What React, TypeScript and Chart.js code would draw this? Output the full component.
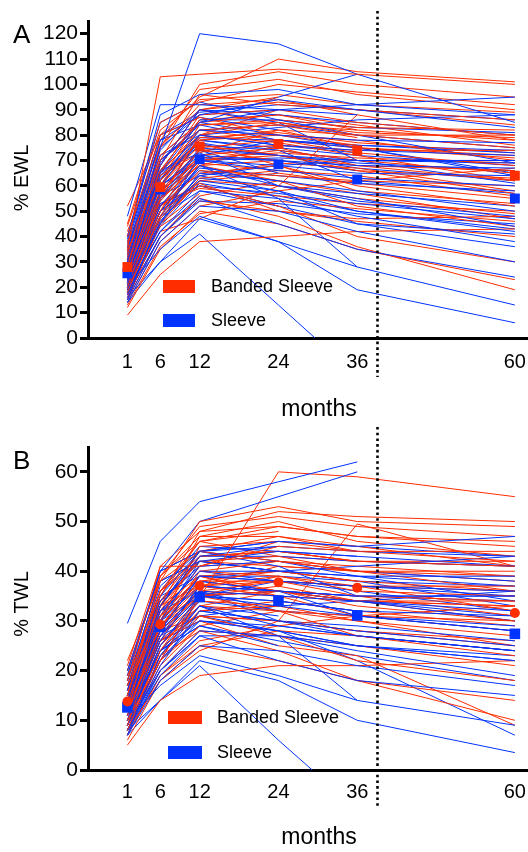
import React, { useEffect, useRef } from "react";
import { Chart, registerables } from "chart.js";
Chart.register(...registerables);

type Row = (number | null)[];

const months = [1, 6, 12, 24, 36, 60];
const xTickValues = [1, 6, 12, 24, 36, 60];
const ewlTickValues = [0, 10, 20, 30, 40, 50, 60, 70, 80, 90, 100, 110, 120];
const twlTickValues = [0, 10, 20, 30, 40, 50, 60];
const seriesNames = ["Banded Sleeve", "Sleeve"];

// Panel A: % EWL, one row per patient at months 1, 6, 12, 24, 36, 60
const ewlBanded: Row[] = [
  [35, 103, 104, 106, 104, 100],
  [40, 80, 95, 110, 105, 101],
  [30, 75, 100, 105, 100, 95],
  [45, 85, 93, 100, 97, 92],
  [28, 70, 96, 92, 90, 86],
  [25, 65, 88, 90, 85, 80],
  [33, 72, 85, 88, 82, 78],
  [20, 55, 80, 85, 80, 75],
  [30, 62, 78, 82, 75, 72],
  [22, 50, 75, 78, 73, 68],
  [27, 58, 70, 74, 70, 65],
  [18, 48, 72, 75, 68, 62],
  [35, 60, 76, 72, 66, 57],
  [24, 52, 65, 68, 60, 52],
  [15, 45, 62, 60, 55, 49],
  [30, 55, 68, 62, 52, 44],
  [9, 25, 38, 40, 42, 43],
  [26, 50, 60, 52, 40, 30],
  [12, 35, 50, 45, 35, 23],
  [17, 40, 55, 48, 36, 19],
  [52, 80, 87, 80, 78, 70],
  [38, 65, 82, 84, 79, null],
  [30, 68, 90, 95, null, null],
  [22, 58, 74, 70, null, null],
  [28, 60, 78, 80, 76, null],
  [19, 47, 63, 66, null, null],
  [34, 66, 86, null, null, null],
  [25, 55, 72, null, null, null],
  [16, 45, 57, null, null, null],
  [42, 75, 92, 94, 88, null],
  [32, 62, 80, 77, 72, 62],
  [24, 54, 70, 72, 68, 66],
  [21, 50, 66, 64, 62, 60],
  [37, 70, 84, 86, 83, 82],
  [29, 57, 74, 76, 74, 74],
  [14, 38, 52, 58, 62, 67],
  [26, 52, 61, 50, 47, 48],
  [31, 64, 73, 82, 80, 80],
  [20, 42, 47, 60, 88, 78],
  [33, 78, 98, 102, 96, 90],
  [27, 68, 90, 93, 90, 84],
  [23, 62, 86, 88, 84, 76],
  [36, 70, 82, 78, 75, 71],
  [19, 55, 79, 81, 77, 73],
  [31, 60, 71, 73, 71, 69],
  [25, 57, 68, 70, 66, 63],
  [21, 48, 64, 69, 67, 58],
  [17, 46, 62, 65, 61, 55],
  [29, 53, 59, 56, 53, 50],
  [13, 36, 49, 54, 51, 46],
  [22, 44, 54, 50, 46, 40],
  [40, 76, 90, 84, 82, null],
  [34, 66, 80, 90, null, null],
  [18, 50, 68, 76, null, null],
  [26, 60, 84, 85, 81, 79],
  [30, 64, 77, 68, 58, 53],
  [15, 40, 56, 62, 57, 47],
  [44, 82, 94, 96, 92, 89],
  [23, 52, 69, 66, 64, 56],
];

const ewlSleeve: Row[] = [
  [30, 75, 120, 116, 104, 85],
  [48, 92, 92, 90, 92, 95],
  [40, 88, 96, 98, 92, 88],
  [35, 78, 88, 94, 90, 83],
  [28, 65, 85, 90, 88, null],
  [25, 70, 82, 80, 78, 77],
  [33, 60, 80, 76, 74, 72],
  [22, 55, 75, 72, 70, 70],
  [27, 60, 72, 70, 68, 67],
  [20, 52, 70, 68, 65, 64],
  [24, 58, 70, 66, 63, 60],
  [18, 45, 65, 62, 58, 50],
  [15, 48, 68, 60, 55, 44],
  [23, 50, 62, 58, 50, 42],
  [19, 42, 58, 55, 48, 38],
  [14, 38, 52, 50, 42, 30],
  [17, 40, 55, 45, 35, 24],
  [20, 35, 48, 38, 28, 13],
  [16, 30, 47, 38, 19, 6],
  [14, 30, 41, 13, -15, null],
  [22, 50, 68, 55, 28, null],
  [30, 68, 90, 85, 70, null],
  [38, 80, 87, 82, null, null],
  [25, 58, 74, 65, null, null],
  [21, 50, 60, 52, null, null],
  [33, 70, 84, null, null, null],
  [18, 42, 56, null, null, null],
  [29, 62, 78, 74, 62, 57],
  [24, 55, 71, 70, 66, null],
  [36, 72, 80, 83, 86, 88],
  [40, 85, 93, 86, 80, 69],
  [27, 63, 76, 74, 70, 61],
  [31, 66, 73, 60, 54, 48],
  [20, 47, 64, 58, 45, 41],
  [26, 56, 64, 68, 70, 70],
  [16, 45, 72, 78, 75, 64],
  [35, 72, 85, 95, 104, null],
  [32, 74, 90, 88, 85, 80],
  [29, 66, 86, 86, 83, 81],
  [26, 62, 82, 84, 80, 75],
  [37, 78, 84, 78, 76, 73],
  [23, 57, 78, 75, 72, 68],
  [21, 54, 74, 72, 69, 66],
  [28, 60, 70, 71, 70, 69],
  [19, 50, 67, 64, 61, 58],
  [17, 46, 63, 60, 57, 52],
  [25, 53, 60, 57, 53, 47],
  [15, 40, 54, 53, 49, 45],
  [22, 48, 58, 52, 45, 36],
  [34, 75, 88, 90, null, null],
  [27, 64, 80, 76, 73, null],
  [20, 52, 66, 62, null, null],
  [39, 80, 89, 92, 90, 86],
  [30, 65, 77, 72, 67, 62],
  [18, 44, 61, 56, 50, 43],
  [24, 60, 79, 78, 76, 74],
  [31, 69, 85, 80, 75, 65],
];

// Panel B: % TWL
const twlBanded: Row[] = [
  [12, 35, 48, 52, 51, 50],
  [15, 38, 50, 53, 50, 49],
  [10, 22, null, 60, 59, 55],
  [18, 41, 41, 45, 44, 44],
  [14, 33, 47, 50, 46, 43],
  [11, 30, 45, 46, 44, 42],
  [16, 32, 43, 44, 42, 41],
  [9, 28, 40, 42, 40, 39],
  [13, 30, 38, 40, 38, 36],
  [10, 26, 37, 39, 36, 35],
  [14, 29, 36, 38, 35, 34],
  [8, 24, 35, 37, 34, 33],
  [17, 31, 39, 36, 33, 30],
  [12, 27, 34, 33, 30, 27],
  [7, 23, 31, 30, 28, 25],
  [15, 28, 35, 32, 27, 23],
  [5, 14, 19, 21, 21, 22],
  [13, 26, 31, 27, 22, 18],
  [6, 18, 25, 22, 18, 14],
  [9, 20, 28, 24, 18, 10],
  [22, 38, 44, 42, 40, 36],
  [19, 33, 42, 43, 40, null],
  [15, 36, 46, 48, null, null],
  [11, 29, 37, 35, null, null],
  [14, 30, 39, 40, 38, null],
  [9, 24, 32, 33, null, null],
  [17, 34, 44, null, null, null],
  [12, 28, 36, null, null, null],
  [8, 22, 29, null, null, null],
  [20, 39, 47, 47, 44, null],
  [16, 32, 40, 39, 37, 32],
  [12, 27, 35, 36, 34, 34],
  [10, 25, 33, 32, 31, 30],
  [18, 36, 43, 44, 42, 42],
  [14, 29, 38, 38, 37, 37],
  [7, 19, 26, 29, 31, 33],
  [13, 26, 30, 25, 23, 9],
  [15, 33, 37, 41, 40, 40],
  [8, 18, 24, 30, 49.5, 41],
  [16, 39, 49, 51, 49, 47],
  [14, 35, 46, 49, 47, 45],
  [12, 33, 44, 47, 45, 41],
  [18, 36, 42, 41, 40, 38],
  [10, 30, 41, 42, 41, 39],
  [15, 31, 37, 38, 37, 36],
  [12, 29, 35, 36, 34, 33],
  [11, 26, 33, 36, 35, 31],
  [9, 24, 32, 34, 32, 29],
  [14, 28, 31, 30, 28, 26],
  [7, 19, 25, 28, 27, 24],
  [11, 23, 28, 27, 25, 21],
  [20, 39, 46, 43, 42, null],
  [17, 34, 41, 46, null, null],
  [9, 25, 35, 39, null, null],
  [13, 31, 43, 44, 42, 41],
  [15, 33, 39, 35, 31, 28],
  [8, 21, 29, 32, 30, 25],
  [21, 41, 48, 49, 47, 46],
  [12, 27, 36, 35, 34, 30],
];

const twlSleeve: Row[] = [
  [29.5, 46, 54, null, 62, null],
  [20, 40, 50, null, 60, null],
  [16, 35, 44, 46, 45, 47],
  [14, 33, 43, 45, 44, 43],
  [13, 30, 42, 44, 43, null],
  [12, 32, 40, 40, 39, 39],
  [15, 28, 39, 38, 37, 36],
  [10, 26, 37, 36, 35, 35],
  [13, 28, 36, 35, 34, 32],
  [9, 25, 35, 34, 32, 31],
  [11, 27, 35, 33, 31, 28],
  [8, 21, 32, 30, 28, 25],
  [7, 23, 33, 29, 27, 24],
  [11, 24, 30, 28, 25, 22],
  [9, 20, 28, 27, 24, 19],
  [7, 18, 25, 24, 21, 17],
  [8, 19, 27, 22, 18, 15],
  [10, 17, 23, 19, 14, 9],
  [8, 14, 22, 18, 10, 3.5],
  [7, 14, 21, 6, -8, null],
  [10, 24, 33, 27, 14, null],
  [14, 33, 44, 41, 35, null],
  [18, 38, 42, 40, null, null],
  [12, 28, 36, 32, null, null],
  [10, 24, 29, 25, null, null],
  [16, 34, 41, null, null, null],
  [8, 20, 27, null, null, null],
  [14, 30, 38, 36, 31, 28],
  [12, 27, 35, 34, 32, null],
  [17, 35, 39, 40, 41, 43],
  [19, 40, 44, 42, 39, 34],
  [13, 30, 37, 36, 34, 30],
  [15, 32, 36, 30, 27, 24],
  [9, 22, 31, 28, 22, 7],
  [12, 27, 31, 33, 34, 36],
  [8, 22, 35, 38, 36, 32],
  [16, 36, 45, 44, 43, 41],
  [15, 33, 43, 43, 42, 41],
  [13, 31, 41, 42, 40, 38],
  [18, 38, 42, 40, 39, 37],
  [11, 28, 39, 38, 37, 35],
  [10, 27, 37, 36, 35, 34],
  [14, 30, 35, 36, 35, 35],
  [9, 25, 34, 32, 31, 29],
  [8, 23, 32, 30, 29, 26],
  [12, 26, 30, 29, 27, 24],
  [7, 20, 27, 27, 25, 23],
  [11, 24, 29, 26, 23, 18],
  [17, 37, 44, 45, null, null],
  [13, 32, 40, 38, 37, null],
  [10, 26, 33, 31, null, null],
  [19, 40, 44, 46, 45, 43],
  [15, 32, 38, 36, 34, 31],
  [9, 22, 30, 28, 25, 22],
  [12, 30, 39, 39, 38, 37],
  [15, 34, 42, 40, 38, 33],
];

const ewlBandedMean = [28, 59.5, 75.5, 76.5, 74, 64];
const ewlSleeveMean = [25.5, 58.5, 70.5, 68.5, 62.5, 55];
const twlBandedMean = [13.8, 29.3, 37.1, 37.8, 36.7, 31.6];
const twlSleeveMean = [12.6, 28.8, 34.8, 34.1, 31.1, 27.4];

const RED = "#FF2D00";
const BLUE = "#0033FF";
const FONT = "'Liberation Sans', Arial, Helvetica, sans-serif";

type PanelProps = {
  letter: string;
  yTitle: string;
  yMax: number;
  yTicks: number[];
  red: Row[];
  blue: Row[];
  redMean: number[];
  blueMean: number[];
  redMeanStyle: string;
  redMeanRadius: number;
  blueMeanRadius: number;
  xAxisHeight: number;
  tickPadding: number;
  dotTop: number;
  dotBottom: number;
  legendX: number;
  legendW: number;
  legendTextX: number;
  legendY1: number;
  legendY2: number;
  monthsY: number;
  yTitleY: number;
};

function toPoints(row: (number | null)[]) {
  const pts: { x: number; y: number }[] = [];
  row.forEach((v, i) => {
    if (v !== null) pts.push({ x: months[i], y: v });
  });
  return pts;
}

function Panel(p: PanelProps) {
  const ref = useRef<HTMLCanvasElement | null>(null);
  useEffect(() => {
    if (!ref.current) return;
    const datasets: any[] = [];
    const n = Math.max(p.red.length, p.blue.length);
    for (let i = 0; i < n; i++) {
      if (i < p.red.length)
        datasets.push({
          data: toPoints(p.red[i]),
          borderColor: RED,
          borderWidth: 1,
          pointRadius: 0,
          pointHoverRadius: 0,
          fill: false,
          tension: 0,
          order: 2,
        });
      if (i < p.blue.length)
        datasets.push({
          data: toPoints(p.blue[i]),
          borderColor: BLUE,
          borderWidth: 1,
          pointRadius: 0,
          pointHoverRadius: 0,
          fill: false,
          tension: 0,
          order: 2,
        });
    }
    datasets.push({
      data: toPoints(p.blueMean),
      showLine: false,
      pointStyle: "rect",
      pointRadius: p.blueMeanRadius,
      pointHoverRadius: p.blueMeanRadius,
      backgroundColor: BLUE,
      borderColor: BLUE,
      borderWidth: 0,
      order: -1,
    });
    datasets.push({
      data: toPoints(p.redMean),
      showLine: false,
      pointStyle: p.redMeanStyle,
      pointRadius: p.redMeanRadius,
      pointHoverRadius: p.redMeanRadius,
      backgroundColor: RED,
      borderColor: RED,
      borderWidth: 0,
      order: -2,
    });

    const annot = {
      id: "annot",
      afterDraw(chart: any) {
        const ctx = chart.ctx;
        const xs = chart.scales.x;
        ctx.save();
        // dotted vertical line
        const dx = Math.round(xs.getPixelForValue(39)) + 0.5;
        ctx.strokeStyle = "#000";
        ctx.lineWidth = 2.6;
        ctx.setLineDash([2.6, 3.1]);
        ctx.beginPath();
        ctx.moveTo(dx, p.dotTop);
        ctx.lineTo(dx, p.dotBottom);
        ctx.stroke();
        ctx.setLineDash([]);
        // panel letter
        ctx.fillStyle = "#000";
        ctx.font = `26px ${FONT}`;
        ctx.textAlign = "left";
        ctx.textBaseline = "alphabetic";
        ctx.fillText(p.letter, 13, 43);
        // y title
        ctx.save();
        ctx.translate(22, p.yTitleY);
        ctx.rotate(-Math.PI / 2);
        ctx.font = `20px ${FONT}`;
        ctx.textAlign = "center";
        ctx.textBaseline = "middle";
        ctx.fillText(p.yTitle, 0, 0);
        ctx.restore();
        // x title
        ctx.font = `23px ${FONT}`;
        ctx.textAlign = "center";
        ctx.textBaseline = "middle";
        ctx.fillText("months", 319, p.monthsY);
        // legend
        ctx.font = `18px ${FONT}`;
        ctx.textAlign = "left";
        ctx.fillStyle = RED;
        ctx.fillRect(p.legendX, p.legendY1 - 6, p.legendW, 13);
        ctx.fillStyle = BLUE;
        ctx.fillRect(p.legendX, p.legendY2 - 6, p.legendW, 13);
        ctx.fillStyle = "#000";
        ctx.fillText(seriesNames[0], p.legendTextX, p.legendY1 + 1);
        ctx.fillText(seriesNames[1], p.legendTextX, p.legendY2 + 1);
        ctx.restore();
      },
    };

    const chart = new Chart(ref.current, {
      type: "line",
      data: { datasets },
      options: {
        animation: false,
        responsive: false,
        layout: { autoPadding: false, padding: { top: 21, right: 0, left: 0, bottom: 0 } },
        plugins: { legend: { display: false }, tooltip: { enabled: false } },
        scales: {
          x: {
            type: "linear",
            min: -5,
            max: 62,
            afterBuildTicks: (s: any) => {
              s.ticks = xTickValues.map((v) => ({ value: v }));
            },
            afterFit: (s: any) => {
              s.height = p.xAxisHeight;
              s.paddingLeft = 0;
              s.paddingRight = 0;
            },
            grid: { display: false, drawTicks: false },
            border: { display: true, color: "#000", width: 3 },
            ticks: {
              color: "#000",
              font: { family: FONT, size: 20 },
              padding: p.tickPadding,
              maxRotation: 0,
              autoSkip: false,
            },
          },
          y: {
            type: "linear",
            min: 0,
            max: p.yMax,
            afterBuildTicks: (s: any) => {
              s.ticks = p.yTicks.map((v) => ({ value: v }));
            },
            afterFit: (s: any) => {
              s.width = 88;
              s.paddingTop = 0;
              s.paddingBottom = 0;
            },
            grid: {
              display: true,
              drawOnChartArea: false,
              drawTicks: true,
              tickLength: 8,
              color: "#000",
              lineWidth: 3,
            },
            border: { display: true, color: "#000", width: 3 },
            ticks: {
              color: "#000",
              font: { family: FONT, size: 21 },
              padding: 2,
              autoSkip: false,
            },
          },
        },
      },
      plugins: [annot],
    } as any);
    return () => chart.destroy();
  }, []);
  return <canvas ref={ref} width={528} height={426} style={{ display: "block", width: 528, height: 426 }} />;
}

export default function App() {
  return (
    <div style={{ position: "absolute", left: 0, top: 0, width: 528, height: 852, background: "#fff" }}>
      <Panel
        letter="A"
        yTitle="% EWL"
        yMax={125}
        yTicks={ewlTickValues}
        red={ewlBanded}
        blue={ewlSleeve}
        redMean={ewlBandedMean}
        blueMean={ewlSleeveMean}
        redMeanStyle="rect"
        redMeanRadius={7}
        blueMeanRadius={7}
        xAxisHeight={88}
        tickPadding={12}
        dotTop={11}
        dotBottom={377}
        legendX={163}
        legendW={32}
        legendTextX={211}
        legendY1={286}
        legendY2={320}
        monthsY={410}
        yTitleY={178}
      />
      <Panel
        letter="B"
        yTitle="% TWL"
        yMax={65}
        yTicks={twlTickValues}
        red={twlBanded}
        blue={twlSleeve}
        redMean={twlBandedMean}
        blueMean={twlSleeveMean}
        redMeanStyle="circle"
        redMeanRadius={5}
        blueMeanRadius={7.5}
        xAxisHeight={82}
        tickPadding={10}
        dotTop={1}
        dotBottom={382}
        legendX={168}
        legendW={34}
        legendTextX={217}
        legendY1={291}
        legendY2={326}
        monthsY={412}
        yTitleY={178}
      />
    </div>
  );
}
